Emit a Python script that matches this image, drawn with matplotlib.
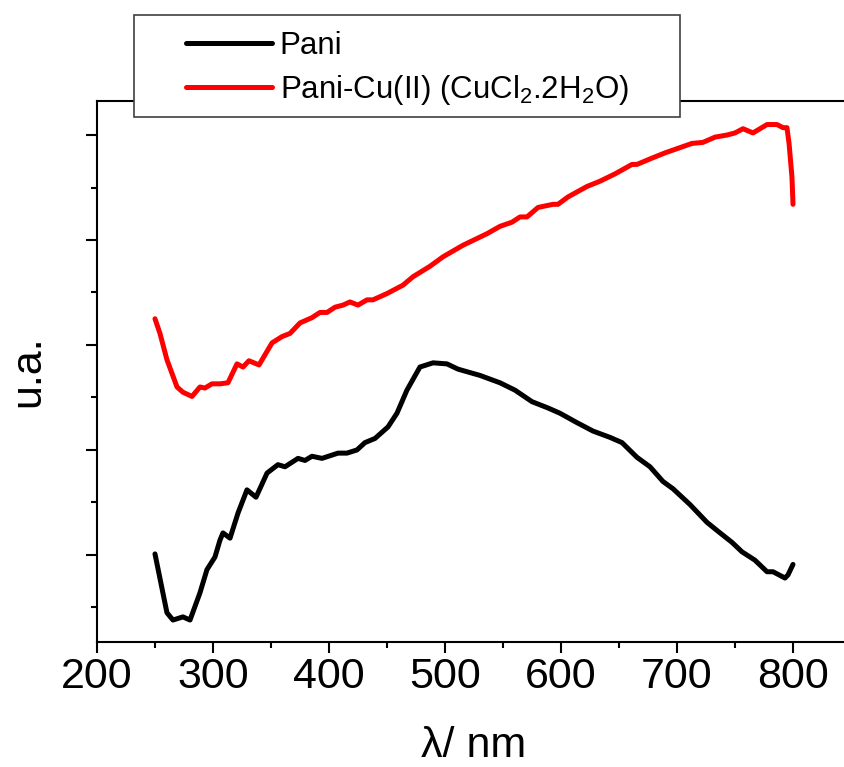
import matplotlib
matplotlib.use("Agg")
import matplotlib.pyplot as plt
from matplotlib.patches import Rectangle
from matplotlib.ticker import MultipleLocator, NullFormatter

plt.rcParams["font.family"] = ["Liberation Sans", "DejaVu Sans"]
plt.rcParams["mathtext.fontset"] = "custom"
plt.rcParams["mathtext.rm"] = "Liberation Sans"
plt.rcParams["mathtext.it"] = "Liberation Sans:italic"

# Pani
pani_wl = [250.0, 260.3, 265.5, 274.1, 280.2, 288.8, 294.8, 301.7, 306.0, 308.6,
           314.7, 321.6, 329.3, 337.1, 346.6, 356.0, 362.1, 373.3, 379.3, 385.3,
           394.0, 407.8, 415.5, 424.1, 431.0, 439.7, 450.9, 458.6, 467.2, 478.4,
           489.7, 501.7, 511.2, 530.2, 547.4, 560.3, 575.0, 588.8, 599.1, 613.8,
           627.6, 642.2, 652.6, 665.5, 676.7, 687.9, 696.6, 711.2, 725.9, 737.1,
           747.4, 756.0, 767.2, 777.6, 782.8, 793.1, 795.7, 800.0]
pani_y = [1.01, 0.45, 0.38, 0.41, 0.38, 0.64, 0.86, 0.98, 1.14, 1.21,
          1.16, 1.40, 1.62, 1.55, 1.78, 1.86, 1.84, 1.92, 1.90, 1.94,
          1.92, 1.97, 1.97, 2.00, 2.07, 2.11, 2.22, 2.35, 2.57, 2.79,
          2.83, 2.82, 2.77, 2.71, 2.64, 2.57, 2.46, 2.40, 2.35, 2.26,
          2.18, 2.12, 2.07, 1.93, 1.84, 1.70, 1.63, 1.48, 1.31, 1.21,
          1.12, 1.03, 0.95, 0.84, 0.84, 0.78, 0.81, 0.91]

# Pani-Cu(II)
cu_wl = [250.0, 254.3, 260.3, 269.0, 274.1, 281.9, 288.8, 293.1, 299.1, 306.0,
         312.9, 320.7, 325.9, 331.0, 339.7, 350.9, 359.5, 366.4, 375.0, 385.3,
         392.2, 398.3, 405.2, 412.1, 418.1, 425.0, 432.8, 437.9, 450.0, 463.8,
         472.4, 487.1, 498.3, 515.5, 536.2, 547.4, 557.8, 564.7, 570.7, 580.2,
         593.1, 597.4, 606.0, 622.4, 633.6, 646.6, 661.2, 665.5, 678.4, 689.7,
         702.6, 712.9, 722.4, 732.8, 743.1, 750.0, 756.9, 765.5, 777.6, 786.2,
         791.4, 794.8, 796.6, 799.1, 800.0]
cu_y = [3.25, 3.11, 2.86, 2.60, 2.55, 2.51, 2.60, 2.59, 2.63, 2.63,
        2.64, 2.82, 2.79, 2.85, 2.81, 3.02, 3.08, 3.11, 3.21, 3.26,
        3.31, 3.31, 3.36, 3.38, 3.41, 3.38, 3.43, 3.43, 3.49, 3.57,
        3.65, 3.75, 3.84, 3.95, 4.06, 4.13, 4.17, 4.22, 4.22, 4.31,
        4.34, 4.34, 4.41, 4.51, 4.56, 4.63, 4.72, 4.72, 4.78, 4.83,
        4.88, 4.92, 4.93, 4.98, 5.00, 5.02, 5.06, 5.02, 5.10, 5.10,
        5.07, 5.07, 4.92, 4.60, 4.34]

labels = ["Pani", "Pani-Cu(II) (CuCl$_2$.2H$_2$O)"]

fig = plt.figure(figsize=(8.44, 7.67), dpi=100)
ax = fig.add_axes([0.1149, 0.1630, 0.8934, 0.7053])

l1, = ax.plot(pani_wl, pani_y, color="black", lw=3.6, solid_capstyle="round")
l2, = ax.plot(cu_wl, cu_y, color="#ff0000", lw=3.6, solid_capstyle="round")

ax.set_xlim(200, 850)
ax.set_ylim(0.171, 5.324)
ax.xaxis.set_major_locator(MultipleLocator(100))
ax.xaxis.set_minor_locator(MultipleLocator(50))
ax.yaxis.set_major_locator(MultipleLocator(1))
ax.yaxis.set_minor_locator(MultipleLocator(0.5))
ax.yaxis.set_major_formatter(NullFormatter())

ax.tick_params(which="major", direction="out", length=8, width=1.5, labelsize=31, pad=3)
ax.tick_params(which="minor", direction="out", length=4, width=1.5)
ax.tick_params(top=False, right=False)
for s in ["left", "bottom", "top"]:
    ax.spines[s].set_linewidth(1.5)
ax.spines["right"].set_visible(False)

ax.set_xlabel("λ/ nm", fontsize=31, labelpad=21)
ax.set_ylabel("u.a.", fontsize=31, labelpad=24)

# legend box
box = Rectangle((0.1588, 0.8475), 0.6469, 0.1330, transform=fig.transFigure,
                facecolor="white", edgecolor="#404040", lw=1.2, zorder=3)
fig.patches.append(box)
fig.legend([l1, l2], labels, loc="upper left", bbox_to_anchor=(186 / 844, 1 - 31 / 767),
           frameon=False, fontsize=22.5, handlelength=2.75, handletextpad=0.25,
           labelspacing=0.38, borderpad=0, borderaxespad=0)

fig.savefig("out.png", dpi=100)
